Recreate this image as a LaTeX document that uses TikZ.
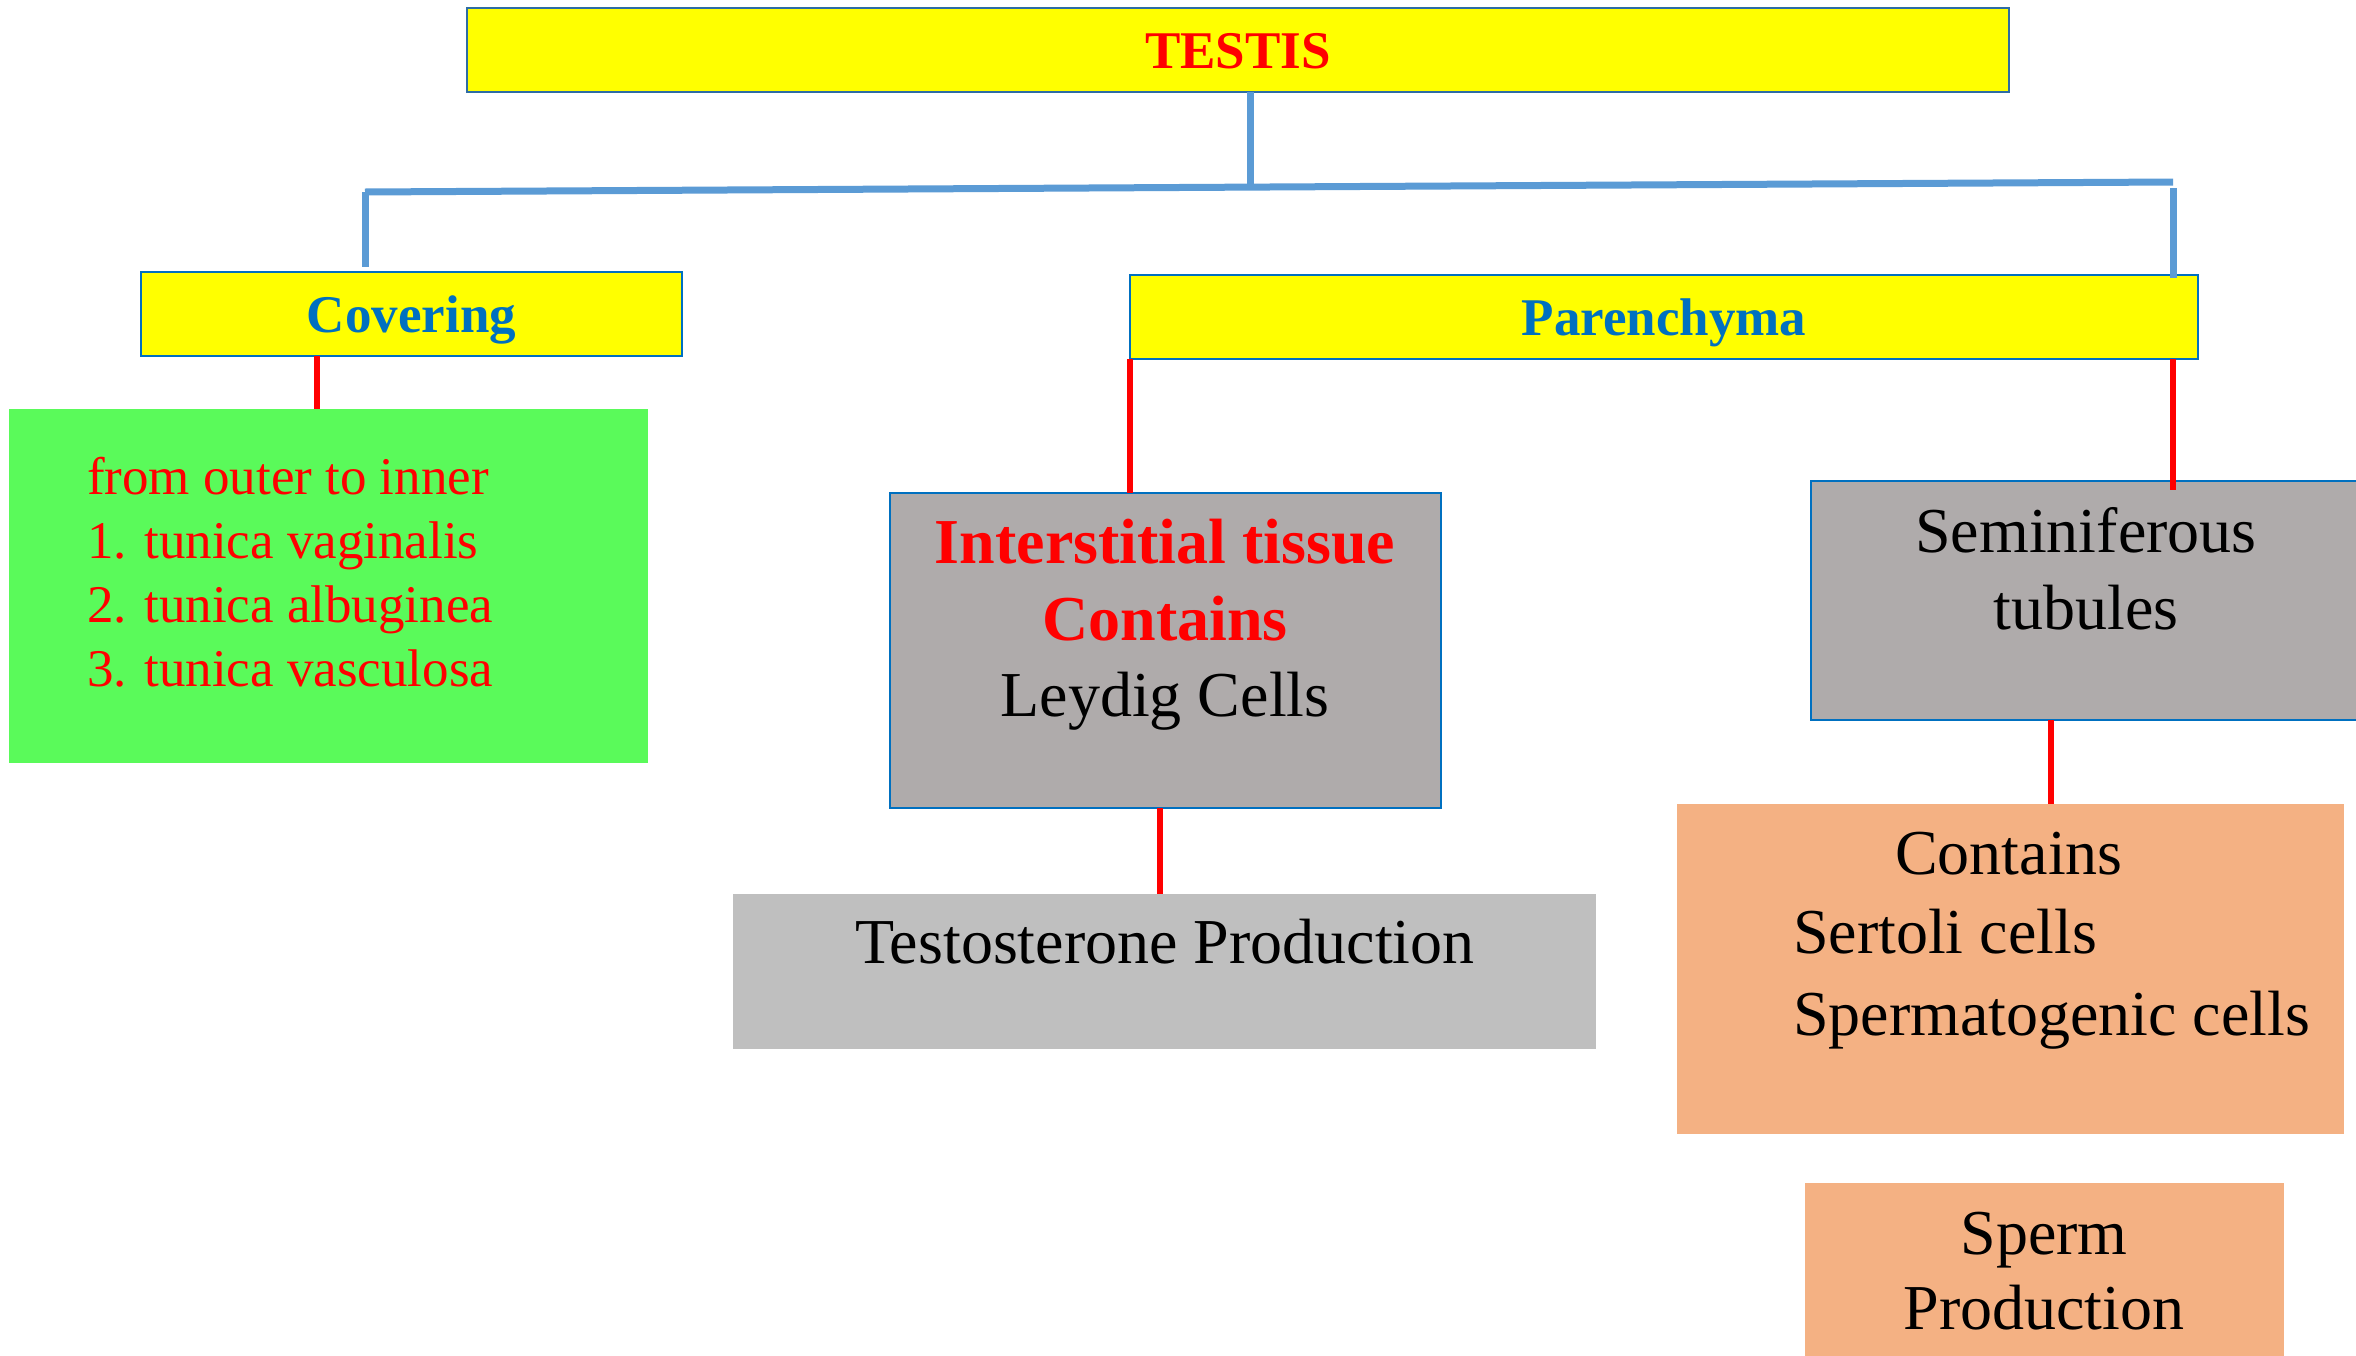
\documentclass[tikz,border=0pt]{standalone}
\usepackage{fontspec}
\setmainfont{Liberation Serif}
\definecolor{boxyellow}{HTML}{FFFF00}
\definecolor{borderblue}{HTML}{0070C0}
\definecolor{darkborder}{HTML}{2E6DA4}
\definecolor{lineblue}{HTML}{5B9BD5}
\definecolor{boxgreen}{HTML}{5AFA5A}
\definecolor{boxgray}{HTML}{AFABAB}
\definecolor{boxlightgray}{HTML}{BFBFBF}
\definecolor{boxorange}{HTML}{F4B183}
\definecolor{txtred}{HTML}{FF0000}
\begin{document}
\begin{tikzpicture}[x=1pt,y=-1pt,
  box/.style={rectangle, inner sep=0pt, outer sep=0pt},
  yellowbox/.style={box, fill=boxyellow, draw=borderblue, line width=2pt},
  graybox/.style={box, fill=boxgray, draw=borderblue, line width=2pt},
  lbl/.style={inner sep=0pt, outer sep=0pt, anchor=base},
  lblw/.style={inner sep=0pt, outer sep=0pt, anchor=base west},
  smallbold/.style={font=\fontsize{53}{64}\bfseries\selectfont},
  smallreg/.style={font=\fontsize{53}{64}\selectfont},
  bigbold/.style={font=\fontsize{64}{77}\bfseries\selectfont},
  bigreg/.style={font=\fontsize{64}{77}\selectfont},
  blueline/.style={draw=lineblue, line width=7pt},
  redline/.style={draw=txtred, line width=6pt}]
\useasboundingbox (0,0) rectangle (2356,1355);
\clip (0,0) rectangle (2356,1355);
\fill[white] (0,0) rectangle (2356,1355);

% boxes
\node[yellowbox, draw=darkborder, line width=2.5pt, minimum width=1542pt, minimum height=84pt] (testis) at (1238,50) {};
\node[yellowbox, minimum width=541pt, minimum height=84pt] (covering) at (411.5,314) {};
\node[yellowbox, minimum width=1068pt, minimum height=84pt] (parenchyma) at (1664,317) {};
\node[box, fill=boxgreen, minimum width=639pt, minimum height=354pt] (green) at (328.5,586) {};
\node[graybox, minimum width=551pt, minimum height=315pt] (inter) at (1165.5,650.5) {};
\node[box, fill=boxlightgray, minimum width=863pt, minimum height=155pt] (testo) at (1164.5,971.5) {};
\node[graybox, minimum width=560pt, minimum height=239pt] (semi) at (2091,600.5) {};
\node[box, fill=boxorange, minimum width=667pt, minimum height=330pt] (contains) at (2010.5,969) {};
\node[box, fill=boxorange, minimum width=479pt, minimum height=190pt] (sperm) at (2044.5,1278) {};

% texts
\node[lbl, smallbold, text=txtred] (tTestis) at (1238,68) {TESTIS};
\node[lbl, smallbold, text=borderblue] (tCovering) at (411.5,332) {Covering};
\node[lbl, smallbold, text=borderblue] (tParen) at (1664,335) {Parenchyma};

\node[lblw, smallreg, text=txtred] (g1) at (87,494) {from outer to inner};
\node[lblw, smallreg, text=txtred] (g2) at (87,558) {1. tunica vaginalis};
\node[lblw, smallreg, text=txtred] (g3) at (87,622) {2. tunica albuginea};
\node[lblw, smallreg, text=txtred] (g4) at (87,686) {3. tunica vasculosa};

\node[lbl, bigbold, text=txtred] (i1) at (1165,563) {Interstitial tissue};
\node[lbl, bigbold, text=txtred] (i2) at (1165,640) {Contains};
\node[lbl, bigreg] (i3) at (1165,716) {Leydig Cells};

\node[lbl, bigreg] (tp) at (1165,963) {Testosterone Production};

\node[lbl, bigreg] (s1) at (2086,552) {Seminiferous};
\node[lbl, bigreg] (s2) at (2086,629) {tubules};

\node[lbl, bigreg] (c1) at (2009,874) {Contains};
\node[lblw, bigreg] (c2) at (1793,953) {Sertoli cells};
\node[lblw, bigreg] (c3) at (1793,1035) {Spermatogenic cells};

\node[lbl, bigreg] (p1) at (2044,1254) {Sperm};
\node[lbl, bigreg] (p2) at (2044,1329) {Production};

% blue tree
\coordinate (jl) at (365,192);
\coordinate (jr) at (2173,182);
\coordinate (jm) at (1250,187);
\draw[blueline] (testis.south -| jm) -- (jm);
\draw[blueline] (jl) -- (jr);
\draw[blueline, shorten >=5pt] (jl) -- (jl |- covering.north);
\draw[blueline, shorten >=-3pt] ([yshift=-6pt]jr) -- (jr |- parenchyma.north);

% red connectors
\coordinate (cv) at (317,0);
\draw[redline] (cv |- covering.south) -- (cv |- green.north);
\draw[redline] (parenchyma.south west) -- (parenchyma.south west |- inter.north);
\draw[redline, shorten >=-9pt] (jr |- parenchyma.south) -- (jr |- semi.north);
\coordinate (it) at (1160,0);
\draw[redline] (it |- inter.south) -- (it |- testo.north);
\coordinate (sc) at (2051,0);
\draw[redline] (sc |- semi.south) -- (sc |- contains.north);
\end{tikzpicture}
\end{document}
